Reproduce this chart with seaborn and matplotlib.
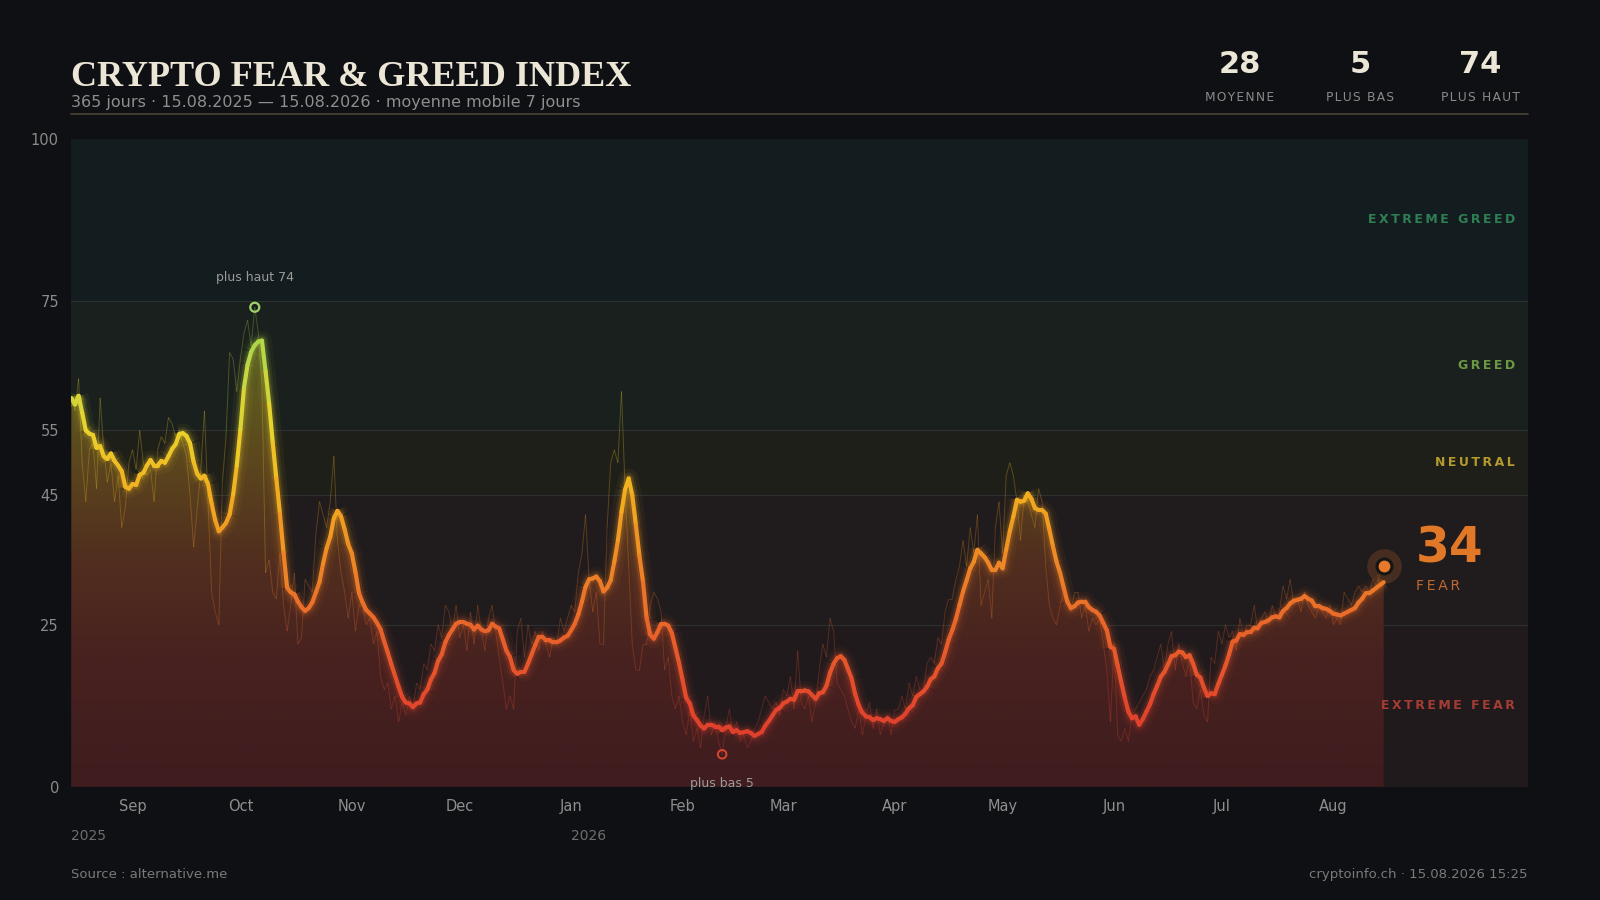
import numpy as np
import pandas as pd
import seaborn as sns
import matplotlib
matplotlib.use("Agg")
import matplotlib.pyplot as plt
import matplotlib.dates as mdates
from matplotlib.collections import LineCollection
from matplotlib.colors import LinearSegmentedColormap, Normalize
from matplotlib.patches import PathPatch
from matplotlib.lines import Line2D
import matplotlib.transforms as mtrans

# --- data (daily index values) ---
START = "2025-08-15"
fgi_daily = [
    60, 58, 63, 50, 44, 52, 53,
    46, 60, 52, 47, 50, 44, 48,
    40, 43, 50, 52, 49, 55, 50,
    48, 49, 44, 52, 54, 53, 57,
    56, 54, 55, 53, 51, 45, 37,
    43, 49, 58, 44, 30, 27, 25,
    47, 54, 67, 66, 61, 66, 70,
    72, 68, 74, 70, 62, 33, 35,
    30, 29, 36, 28, 24, 28, 33,
    22, 23, 32, 31, 30, 39, 44,
    42, 40, 44, 51, 38, 33, 30,
    26, 30, 24, 28, 28, 25, 26,
    22, 24, 17, 15, 16, 12, 14,
    10, 13, 11, 14, 12, 16, 15,
    19, 18, 22, 21, 25, 23, 28,
    27, 24, 28, 23, 25, 21, 27,
    22, 28, 24, 21, 26, 28, 24,
    20, 16, 12, 14, 12, 24, 26,
    20, 25, 22, 24, 21, 24, 22,
    20, 23, 22, 26, 24, 26, 28,
    27, 33, 36, 42, 32, 27, 30,
    22, 22, 40, 50, 52, 50, 61,
    46, 34, 22, 18, 18, 22, 22,
    28, 30, 29, 27, 18, 20, 14,
    12, 14, 10, 8, 12, 7, 9,
    6, 11, 14, 8, 10, 7, 5,
    9, 12, 8, 10, 7, 8, 6,
    7, 9, 10, 12, 14, 13, 12,
    13, 11, 15, 14, 17, 12, 21,
    13, 12, 14, 10, 13, 18, 22,
    20, 26, 24, 16, 15, 14, 12,
    10, 9, 12, 8, 11, 13, 9,
    12, 8, 10, 11, 8, 12, 12,
    14, 12, 16, 14, 17, 15, 15,
    19, 20, 19, 23, 22, 27, 29,
    29, 32, 34, 38, 34, 40, 36,
    42, 28, 30, 32, 26, 40, 44,
    36, 48, 50, 48, 44, 38, 45,
    44, 42, 40, 46, 44, 34, 28,
    26, 25, 28, 30, 29, 27, 30,
    30, 26, 28, 24, 26, 25, 26,
    22, 18, 10, 22, 8, 7, 9,
    7, 11, 12, 13, 14, 15, 17,
    18, 20, 22, 18, 22, 24, 18,
    22, 19, 17, 20, 13, 12, 15,
    11, 10, 20, 19, 24, 22, 25,
    23, 24, 21, 26, 23, 25, 25,
    28, 24, 26, 27, 25, 28, 26,
    27, 31, 29, 32, 28, 29, 27,
    30, 28, 27, 26, 28, 27, 26,
    28, 25, 26, 25, 30, 29, 28,
    30, 31, 30, 31, 30, 32, 31,
    33, 34,
]

zone_edges = [0, 25, 45, 55, 75, 100]
zone_names = ["EXTREME FEAR", "FEAR", "NEUTRAL", "GREED", "EXTREME GREED"]
zone_bg = ["#201a1d", "#201b1c", "#1f1f1a", "#1a201d", "#131c1e"]
zone_text = ["#a63c34", "#c86d34", "#b39a2b", "#6c9a44", "#2f7f55"]

month_ticks = ["2025-09-01", "2025-10-01", "2025-11-01", "2025-12-01", "2026-01-01",
               "2026-02-01", "2026-03-01", "2026-04-01", "2026-05-01", "2026-06-01",
               "2026-07-01", "2026-08-01"]
month_labels = ["Sep", "Oct", "Nov", "Dec", "Jan", "Feb", "Mar", "Apr", "May", "Jun", "Jul", "Aug"]
year_marks = ["2025-08-15", "2026-01-01"]
year_labels = ["2025", "2026"]
y_ticks = [0, 25, 45, 55, 75, 100]

BG = "#0e1013"
W, H = 1600, 900

df = pd.DataFrame({"date": pd.date_range(START, periods=len(fgi_daily), freq="D"),
                   "value": fgi_daily})
df["ma7"] = df["value"].rolling(7, min_periods=1).mean()

sns.set_theme(style="dark", rc={"axes.facecolor": BG, "figure.facecolor": BG})
plt.rcParams["font.family"] = ["DejaVu Sans"]

fig = plt.figure(figsize=(16, 9), dpi=100, facecolor=BG)
ax_l, ax_r, ax_t, ax_b = 71.4, 1527.5, 138.8, 786.7
ax = fig.add_axes([ax_l / W, 1 - ax_b / H, (ax_r - ax_l) / W, (ax_b - ax_t) / H])
ax.set_facecolor(BG)

xn = mdates.date2num(df["date"])
ma = df["ma7"].to_numpy()
raw = df["value"].to_numpy(dtype=float)

# zone bands
for lo, hi, c in zip(zone_edges[:-1], zone_edges[1:], zone_bg):
    ax.axhspan(lo, hi, color=c, lw=0, zorder=0)
for y in zone_edges[1:-1]:
    ax.axhline(y, color="#2c302f", lw=0.8, zorder=0.5)

line_cmap = LinearSegmentedColormap.from_list("fg", [
    (0.0, "#d8352c"), (0.12, "#e2452c"), (0.25, "#e9662a"), (0.35, "#ee8826"),
    (0.45, "#f2ad1f"), (0.55, "#ead22c"), (0.65, "#bfd845"), (0.75, "#8fd052"),
    (1.0, "#3fb060")])
fill_cmap = LinearSegmentedColormap.from_list("fill", [
    (0.0, "#401c1f"), (0.2, "#48221f"), (0.35, "#512e1f"), (0.5, "#5b461d"),
    (0.6, "#5e561f"), (0.75, "#4c5a22"), (1.0, "#365c2c")])
norm = Normalize(0, 100)

# gradient fill under the moving average
poly = ax.fill_between(xn, ma, 0, color="none", lw=0)
clip = PathPatch(poly.get_paths()[0], transform=ax.transData, fc="none", ec="none")
ax.add_patch(clip)
grad = np.linspace(0, 100, 256).reshape(-1, 1)
im = ax.imshow(grad, extent=[xn[0], xn[-1], 0, 100], origin="lower", aspect="auto",
               cmap=fill_cmap, norm=norm, zorder=1, interpolation="bilinear")
im.set_clip_path(clip)


def segments(x, y):
    pts = np.column_stack([x, y])
    return np.stack([pts[:-1], pts[1:]], axis=1), (y[:-1] + y[1:]) / 2


# raw daily values, thin and faint
segs, mids = segments(xn, raw)
ax.add_collection(LineCollection(segs, colors=line_cmap(norm(mids)), linewidths=0.7,
                                 alpha=0.28, zorder=2))

# glow around the moving average
bins = np.floor(ma / 3).astype(int)
starts = np.r_[0, np.nonzero(np.diff(bins))[0] + 1]
ends = np.r_[starts[1:], len(ma) - 1]
for s, e in zip(starts, ends):
    if e <= s:
        continue
    c = line_cmap(norm(ma[s:e + 1].mean()))
    for lw, a in [(14, 0.05), (9, 0.09), (6, 0.17)]:
        ax.plot(xn[s:e + 1], ma[s:e + 1], color=c, lw=lw, alpha=a,
                solid_capstyle="butt", solid_joinstyle="round", zorder=3)

segs, mids = segments(xn, ma)
ax.add_collection(LineCollection(segs, colors=line_cmap(norm(mids)), linewidths=3.0,
                                 capstyle="round", joinstyle="round", zorder=4))

# markers: high, low, last
i_max, i_min = int(np.argmax(raw)), int(np.argmin(raw))
last = raw[-1]
sns.scatterplot(x=[df["date"].iloc[i_max]], y=[raw[i_max]], ax=ax, s=42, facecolor="none",
                edgecolor="#9fd16a", linewidth=1.6, zorder=5)
sns.scatterplot(x=[df["date"].iloc[i_min]], y=[raw[i_min]], ax=ax, s=38, facecolor="none",
                edgecolor="#d9452f", linewidth=1.4, zorder=5)
sns.scatterplot(x=[df["date"].iloc[-1]], y=[last], ax=ax, s=620, color="#e07a2c",
                alpha=0.2, linewidth=0, zorder=5)
sns.scatterplot(x=[df["date"].iloc[-1]], y=[last], ax=ax, s=115, color="#e8792a",
                edgecolor="#151515", linewidth=2.2, zorder=6)

ax.text(xn[i_max], raw[i_max] + 4.6, f"plus haut {int(raw[i_max])}", ha="center",
        va="center", fontsize=9, color="#9a9a9a", zorder=6)
ax.text(xn[i_min], 0.45, f"plus bas {int(raw[i_min])}", ha="center", va="center",
        fontsize=9, color="#9a9a9a", zorder=6, clip_on=False)


def spaced(s, sp="\u2009"):
    return sp.join(s)


zi = int(np.searchsorted(zone_edges, last, side="right") - 1)
ax.annotate(f"{int(last)}", xy=(xn[-1], last), xytext=(23, 2.9), textcoords="offset points",
            ha="left", va="baseline", fontsize=35, fontweight="bold", color="#e07828", zorder=7)
ax.annotate(spaced(zone_names[zi].upper()), xy=(xn[-1], last), xytext=(23, -14),
            textcoords="offset points", ha="left", va="center", fontsize=10,
            color="#c06a32", zorder=7)

# zone labels on the right
btr = mtrans.blended_transform_factory(ax.transAxes, ax.transData)
for k, name in enumerate(zone_names):
    if k == zi:
        continue
    ax.text(1 - 12.5 / (ax_r - ax_l), (zone_edges[k] + zone_edges[k + 1]) / 2, spaced(name),
            transform=btr, ha="right", va="center", fontsize=9, fontweight="bold",
            color=zone_text[k], zorder=6)

ax.set_xlim(xn[0], xn[-1] + 40)
ax.set_ylim(0, 100)
ax.set_xticks(mdates.date2num(pd.to_datetime(month_ticks)))
ax.set_xticklabels(month_labels)
ax.set_yticks(y_ticks)
ax.set_yticklabels([str(v) for v in y_ticks])
ax.tick_params(axis="x", length=0, pad=9, labelsize=10.5, labelcolor="#8e8e8e")
ax.tick_params(axis="y", length=0, pad=9, labelsize=10.5, labelcolor="#8a8a8a")
ax.set_xlabel("")
ax.set_ylabel("")
ax.grid(False)
for sp in ax.spines.values():
    sp.set_visible(False)

btr2 = mtrans.blended_transform_factory(ax.transData, ax.transAxes)
for d, lab in zip(year_marks, year_labels):
    ax.text(mdates.date2num(pd.Timestamp(d)), -49 / (ax_b - ax_t), lab, transform=btr2,
            ha="left", va="center", fontsize=10, color="#6e6e6e", clip_on=False)

# header
fig.text(ax_l / W, 1 - 85.7 / H, "CRYPTO FEAR & GREED INDEX", ha="left", va="baseline",
         fontsize=26, fontweight="bold", color="#ece6d6",
         family=["Liberation Serif", "DejaVu Serif"])
fig.text(ax_l / W, 1 - 106.5 / H,
         "365 jours · 15.08.2025 — 15.08.2026 · moyenne mobile 7 jours",
         ha="left", va="baseline", fontsize=11.5, color="#8e8e8e")
fig.add_artist(Line2D([ax_l / W, ax_r / W], [1 - 114.3 / H] * 2, color="#4a4433", lw=1.2))

stats = [(f"{round(raw.mean())}", "MOYENNE", 1240),
         (f"{int(raw.min())}", "PLUS BAS", 1360.5),
         (f"{int(raw.max())}", "PLUS HAUT", 1480)]
for val, lab, cx in stats:
    fig.text(cx / W, 1 - 72.7 / H, val, ha="center", va="baseline", fontsize=22,
             fontweight="bold", color="#ece6d6")
    fig.text(cx / W, 1 - 101 / H, spaced(lab, "\u200a"), ha="center", va="baseline",
             fontsize=8.8, color="#8a8a8a")

# footer
fig.text(ax_l / W, 1 - 874.5 / H, "Source : alternative.me", ha="left", va="center",
         fontsize=9.5, color="#7a7a7a")
fig.text(ax_r / W, 1 - 874.5 / H, "cryptoinfo.ch · 15.08.2026 15:25", ha="right",
         va="center", fontsize=9.5, color="#7a7a7a")

fig.savefig("out.png", dpi=100, facecolor=BG)
